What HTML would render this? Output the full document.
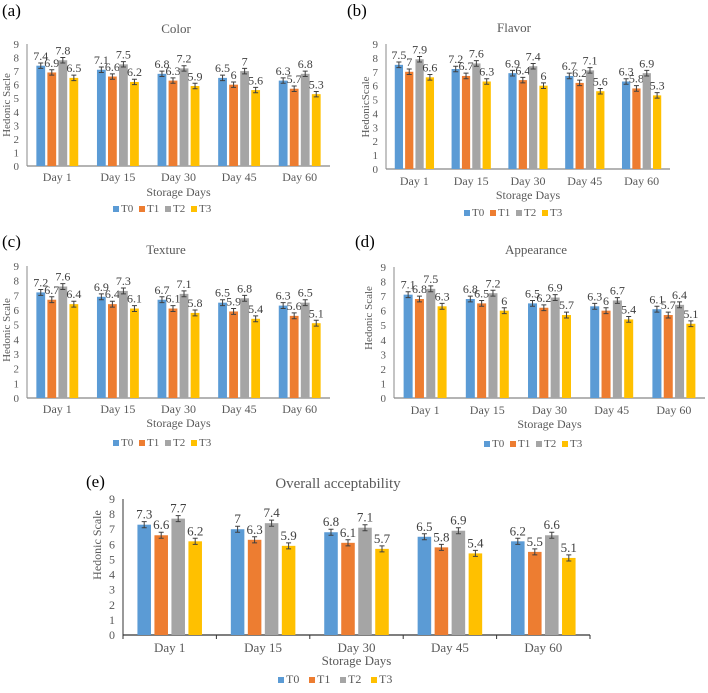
<!DOCTYPE html>
<html><head><meta charset="utf-8"><style>
body{margin:0;background:#fff;}
svg{display:block;}
svg text{font-family:"Liberation Serif","Times New Roman",serif;}
</style></head><body>
<svg id="chart" width="708" height="693" viewBox="0 0 708 693" font-family="Liberation Serif, serif"></svg>
<script>
const categories = ["Day 1","Day 15","Day 30","Day 45","Day 60"];
const seriesNames = ["T0","T1","T2","T3"];
const colorT0 = [7.4,7.1,6.8,6.5,6.3];
const colorT1 = [6.9,6.6,6.3,6.0,5.7];
const colorT2 = [7.8,7.5,7.2,7.0,6.8];
const colorT3 = [6.5,6.2,5.9,5.6,5.3];
const flavorT0 = [7.5,7.2,6.9,6.7,6.3];
const flavorT1 = [7.0,6.7,6.4,6.2,5.8];
const flavorT2 = [7.9,7.6,7.4,7.1,6.9];
const flavorT3 = [6.6,6.3,6.0,5.6,5.3];
const textureT0 = [7.2,6.9,6.7,6.5,6.3];
const textureT1 = [6.7,6.4,6.1,5.9,5.6];
const textureT2 = [7.6,7.3,7.1,6.8,6.5];
const textureT3 = [6.4,6.1,5.8,5.4,5.1];
const appearT0 = [7.1,6.8,6.5,6.3,6.1];
const appearT1 = [6.8,6.5,6.2,6.0,5.7];
const appearT2 = [7.5,7.2,6.9,6.7,6.4];
const appearT3 = [6.3,6.0,5.7,5.4,5.1];
const overallT0 = [7.3,7.0,6.8,6.5,6.2];
const overallT1 = [6.6,6.3,6.1,5.8,5.5];
const overallT2 = [7.7,7.4,7.1,6.9,6.6];
const overallT3 = [6.2,5.9,5.7,5.4,5.1];
const yTicks = [0,1,2,3,4,5,6,7,8,9];
const errVal = 0.2;
const colors = ["#5B9BD5","#ED7D31","#A5A5A5","#FFC000"];

const svg = document.getElementById('chart');
const NS = "http://www.w3.org/2000/svg";
function mk(tag, attrs, parent){const e=document.createElementNS(NS,tag);for(const k in attrs)e.setAttribute(k,attrs[k]);(parent||svg).appendChild(e);return e;}
function txt(s, attrs, parent){attrs['font-family']='Liberation Serif, serif';const e=mk('text',attrs,parent);e.textContent=s;return e;}

const panels = [
 {key:"color",letter:"(a)",lx:2,ly:16,title:"Color",tx:176,ty:33,ytitle:"Hedonic Sacle",ytx:7,yty:105,
  x0:27,x1:330,y0:166,y9:44,catY:181,xtY:196,legY:212,legX:165,data:[colorT0,colorT1,colorT2,colorT3],fs:11,big:false},
 {key:"flavor",letter:"(b)",lx:347,ly:16,title:"Flavor",tx:514,ty:32,ytitle:"HedonicScale",ytx:366,yty:107,
  x0:386,x1:670,y0:169,y9:44,catY:185,xtY:199,legY:216,legX:516,data:[flavorT0,flavorT1,flavorT2,flavorT3],fs:11,big:false},
 {key:"texture",letter:"(c)",lx:2,ly:247,title:"Texture",tx:166,ty:254,ytitle:"Hedonic Scale",ytx:7,yty:330,
  x0:27,x1:330,y0:398,y9:266,catY:413,xtY:427,legY:446,legX:165,data:[textureT0,textureT1,textureT2,textureT3],fs:11,big:false},
 {key:"appearance",letter:"(d)",lx:355,ly:247,title:"Appearance",tx:536,ty:254,ytitle:"Hedonic Scale",ytx:369,yty:318,
  x0:394,x1:705,y0:398,y9:267,catY:414,xtY:428,legY:447,legX:536,data:[appearT0,appearT1,appearT2,appearT3],fs:11,big:false},
 {key:"overall",letter:"(e)",lx:86,ly:487,title:"Overall acceptability",tx:338,ty:488,ytitle:"Hedonic Scale",ytx:97,yty:545,
  x0:123,x1:590,y0:635,y9:499,catY:652,xtY:665,legY:683,legX:340,data:[overallT0,overallT1,overallT2,overallT3],fs:12,big:true}
];

panels.forEach(p=>{
  const g = mk('g',{});
  
  
  const gw = (p.x1-p.x0)/categories.length;
  const y = v => p.y0 - (p.y0-p.y9)*v/9;
  const xc = i => p.x0 + gw*(i+0.5);
  let e;
  e = txt(p.letter,{x:p.lx,y:p.ly,'font-size':17,fill:'#000'},g);
  
  
  e = txt(p.title,{x:p.tx,y:p.ty,'font-size':p.big?15:13,fill:'#595959','text-anchor':'middle'},g);
  
  
  e = txt(p.ytitle,{x:p.ytx,y:p.yty,'font-size':p.big?12:11,fill:'#595959','text-anchor':'middle','dominant-baseline':'central',transform:`rotate(-90 ${p.ytx} ${p.yty})`},g);
  
  
  yTicks.forEach(t=>{
    const tl = txt(String(t),{x:p.x0-8,y:y(t)+4,'font-size':p.fs,fill:'#595959','text-anchor':'end'},g);
    
    
  });
  e = mk('line',{x1:p.x0,x2:p.x0,y1:p.y9,y2:p.y0,stroke:p.big?'#333':'#888','stroke-width':1},g);
  
  
  e = mk('line',{x1:p.x0,x2:p.x1,y1:p.y0,y2:p.y0,stroke:p.big?'#333':'#888','stroke-width':1.2},g);
  
  
  if(p.big){for(let i=0;i<=categories.length;i++){mk('line',{x1:p.x0+gw*i,x2:p.x0+gw*i,y1:p.y0,y2:p.y0+4,stroke:'#333'},g);}}
  const bw = gw*0.145, sp = gw*0.182;
  categories.forEach((c,i)=>{
    const cl = txt(c,{x:xc(i),y:p.catY,'font-size':p.fs+1,fill:'#595959','text-anchor':'middle'},g);
    
    
    p.data.forEach((arr,s)=>{
      const v = arr[i];
      const cx = xc(i) + (s-1.5)*sp;
      const r = mk('rect',{x:cx-bw/2,y:y(v),width:bw,height:p.y0-y(v),fill:colors[s]},g);
      
      
      const yt=y(v+errVal), yb=y(v-errVal);
      const eb = mk('path',{d:`M${cx} ${yt}V${yb}M${cx-2.5} ${yt}H${cx+2.5}M${cx-2.5} ${yb}H${cx+2.5}`,stroke:'#404040','stroke-width':1,fill:'none'},g);
      
      
      const vl = txt(String(v),{x:cx,y:yt-3,'font-size':p.fs+1,fill:'#404040','text-anchor':'middle'},g);
      
      
    });
  });
  e = txt("Storage Days",{x:(p.x0+p.x1)/2,y:p.xtY,'font-size':p.big?13:12,fill:'#595959','text-anchor':'middle'},g);
  
  
  const lw = p.big?31:26, lstart = p.legX - lw*2;
  seriesNames.forEach((n,s)=>{
    const lg = mk('g',{},g);
    
    
    const lx = lstart + s*lw;
    mk('rect',{x:lx,y:p.legY-6,width:6,height:6,fill:colors[s]},lg);
    txt(n,{x:lx+8,y:p.legY,'font-size':p.fs,fill:'#595959'},lg);
  });
});
</script>
</body></html>
